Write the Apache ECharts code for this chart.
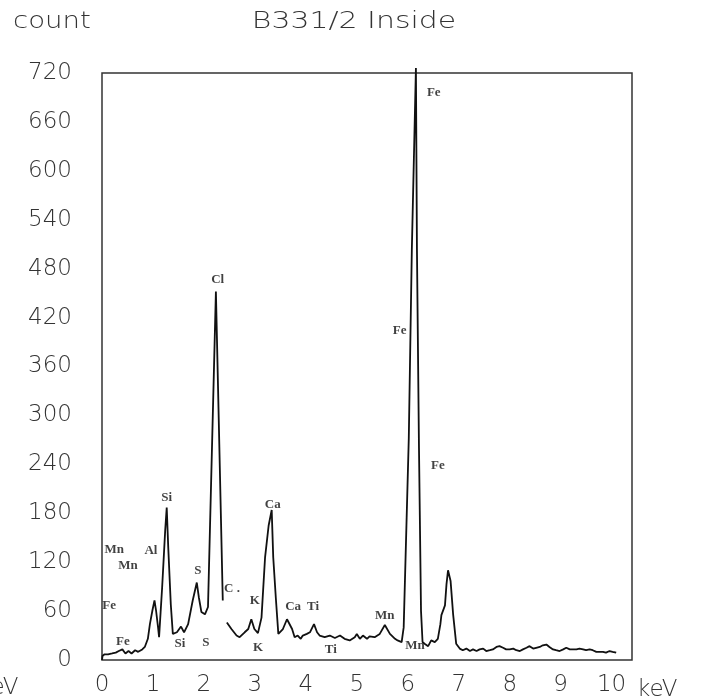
<!DOCTYPE html>
<html lang="en">
<head>
    <meta charset="UTF-8">
    <title>B331/2 Inside</title>
    <style>
        body {
            margin: 0;
            background-color: #fff;
        }

        #spectrum {
            width: 701px;
            height: 697px;
        }
    </style>
</head>
<body>

    <!-- EDX spectrum -->
    <div id="spectrum"></div>

    <script src="https://cdn.jsdelivr.net/npm/echarts@6/dist/echarts.min.js"></script>
    <script>

        // tick labels
        const energyTicks = [0, 1, 2, 3, 4, 5, 6, 7, 8, 9, 10];
        const countTicks = [0, 60, 120, 180, 240, 300, 360, 420, 480, 540, 600, 660, 720];

        // spectrum trace: [energy keV, count], '-' = gap in the trace
        const spectrum = [
            [0.00, 0], [0.01, 5], [0.05, 7], [0.12, 7], [0.20, 8], [0.27, 9],
            [0.33, 11], [0.40, 13], [0.46, 8], [0.52, 11], [0.58, 8], [0.65, 12],
            [0.71, 10], [0.79, 13], [0.84, 16], [0.90, 26], [0.94, 44], [0.99, 61],
            [1.03, 73], [1.06, 61], [1.10, 40], [1.12, 28], [1.18, 89], [1.24, 159],
            [1.27, 187], [1.30, 138], [1.35, 68], [1.39, 32], [1.47, 34], [1.55, 41],
            [1.61, 34], [1.69, 44], [1.78, 73], [1.86, 95], [1.90, 77], [1.95, 59],
            [2.02, 56], [2.08, 65], [2.235, 452], [2.37, 73], [2.41, '-'],
            [2.45, 46], [2.54, 38], [2.64, 30], [2.70, 28], [2.80, 34], [2.87, 38],
            [2.93, 50], [2.99, 38], [3.06, 33], [3.13, 52], [3.20, 126], [3.27, 165],
            [3.33, 184], [3.36, 126], [3.41, 77], [3.46, 32], [3.55, 38], [3.63, 50],
            [3.73, 38], [3.78, 28], [3.84, 30], [3.90, 26], [3.94, 30], [4.02, 32],
            [4.08, 34], [4.16, 44], [4.22, 34], [4.27, 30], [4.37, 28], [4.47, 30],
            [4.57, 27], [4.67, 30], [4.76, 26], [4.86, 24], [4.96, 28], [5.00, 32],
            [5.06, 26], [5.12, 30], [5.20, 26], [5.25, 29], [5.35, 28], [5.45, 32],
            [5.55, 43], [5.65, 32], [5.75, 26], [5.80, 24], [5.88, 22], [5.92, 40],
            [6.02, 272], [6.08, 504], [6.16, 726], [6.18, 504], [6.22, 260],
            [6.26, 60], [6.29, 22], [6.33, 20], [6.40, 17], [6.46, 24], [6.53, 22],
            [6.59, 26], [6.64, 44], [6.66, 55], [6.73, 67], [6.76, 93], [6.79, 110],
            [6.84, 97], [6.89, 56], [6.95, 20], [7.02, 14], [7.08, 12], [7.15, 14],
            [7.22, 11], [7.28, 13], [7.35, 11], [7.41, 13], [7.48, 14], [7.54, 11],
            [7.61, 12], [7.67, 13], [7.74, 16], [7.80, 17], [7.87, 15], [7.93, 13],
            [8.00, 13], [8.07, 14], [8.13, 12], [8.20, 11], [8.26, 13], [8.33, 15],
            [8.39, 17], [8.46, 14], [8.52, 15], [8.59, 16], [8.65, 18], [8.72, 19],
            [8.78, 16], [8.85, 13], [8.91, 12], [8.98, 11], [9.05, 13], [9.11, 15],
            [9.18, 13], [9.24, 13], [9.31, 13], [9.37, 14], [9.44, 13], [9.50, 12],
            [9.57, 13], [9.63, 12], [9.70, 10], [9.76, 10], [9.83, 10], [9.89, 9],
            [9.96, 11], [10.02, 10], [10.09, 9]
        ];

        // element marks written on the plot: [energy keV, count, element]
        const peakLabels = [
            [6.51, 696, 'Fe'], [5.84, 404, 'Fe'], [6.59, 238, 'Fe'],
            [2.27, 466, 'Cl'], [1.27, 199, 'Si'], [0.96, 134, 'Al'],
            [0.24, 135, 'Mn'], [0.51, 116, 'Mn'], [0.14, 67, 'Fe'],
            [0.41, 22, 'Fe'], [1.53, 20, 'Si'], [1.88, 110, 'S'],
            [2.04, 21, 'S'], [2.55, 87, 'C .'], [3.00, 73, 'K'],
            [3.06, 15, 'K'], [3.35, 190, 'Ca'], [3.75, 66, 'Ca'],
            [4.14, 66, 'Ti'], [4.49, 13, 'Ti'], [5.55, 55, 'Mn'],
            [6.14, 18, 'Mn']
        ];

        const chart = echarts.init(document.getElementById('spectrum'));

        const axisFont = {
            color: '#333',
            fontSize: 23,
            fontWeight: 200,
            fontFamily: 'DejaVu Sans',
        };

        const option = {
            backgroundColor: '#fff',
            animation: false,
            grid: {
                left: 102,
                top: 73,
                width: 530,
                height: 590,
                show: true,
                borderColor: '#333',
                borderWidth: 1.5,
            },
            xAxis: {
                type: 'value',
                min: 0,
                max: 10.4,
                interval: 1,
                axisLine: { show: false },
                axisTick: { show: false },
                splitLine: { show: false },
                axisLabel: Object.assign({
                    margin: 14,
                    showMaxLabel: false,
                    formatter: v => energyTicks.includes(v) ? String(v) : '',
                }, axisFont),
            },
            yAxis: {
                type: 'value',
                min: 0,
                max: 720,
                interval: 60,
                axisLine: { show: false },
                axisTick: { show: false },
                splitLine: { show: false },
                axisLabel: Object.assign({
                    margin: 30,
                    formatter: v => countTicks.includes(v) ? String(v) : '',
                }, axisFont),
            },
            graphic: [
                {
                    type: 'text',
                    x: 13, y: 22,
                    scaleX: 1.2,
                    style: { text: 'count', font: '200 23px "DejaVu Sans"', fill: '#333', verticalAlign: 'middle' },
                },
                {
                    type: 'text',
                    x: 354, y: 22,
                    scaleX: 1.3,
                    style: { text: 'B331/2 Inside', font: '200 23px "DejaVu Sans"', fill: '#333', align: 'center', verticalAlign: 'middle' },
                },
                {
                    type: 'text',
                    x: 637, y: 690,
                    style: { text: 'keV', font: '200 23px "DejaVu Sans"', fill: '#333', verticalAlign: 'middle' },
                },
                {
                    type: 'text',
                    x: -22, y: 688,
                    style: { text: 'keV', font: '200 23px "DejaVu Sans"', fill: '#333', verticalAlign: 'middle' },
                },
            ],
            series: [
                {
                    type: 'line',
                    data: spectrum,
                    showSymbol: false,
                    clip: false,
                    connectNulls: false,
                    lineStyle: { color: '#111', width: 1.8 },
                },
                {
                    type: 'scatter',
                    data: peakLabels,
                    symbolSize: 0,
                    label: {
                        show: true,
                        position: 'inside',
                        formatter: p => p.data[2],
                        color: '#111',
                        fontSize: 13,
                        fontWeight: 'bold',
                        fontFamily: 'Liberation Serif',
                    },
                },
            ],
        };

        chart.setOption(option);

    </script>
</body>
</html>
